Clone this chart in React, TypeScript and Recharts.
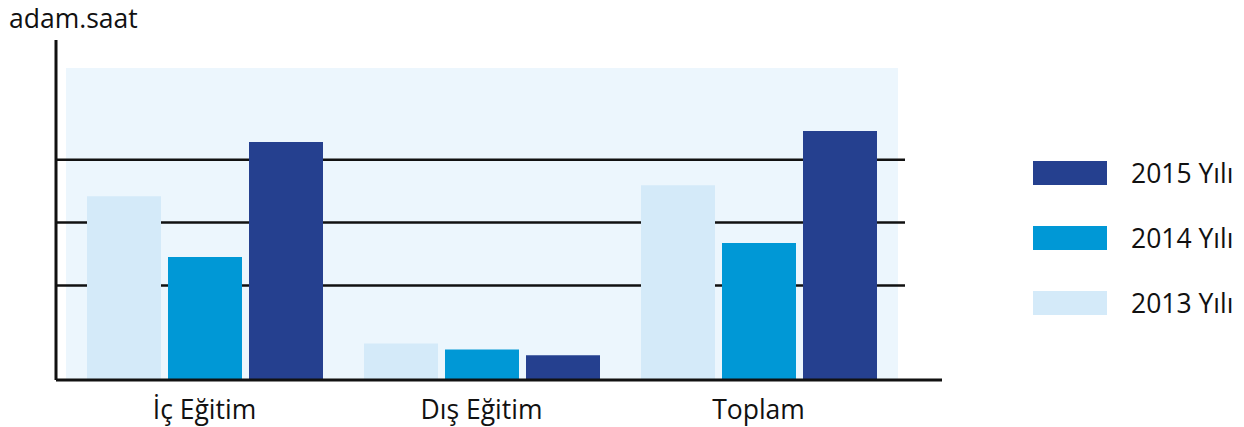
import { BarChart, Bar, XAxis, YAxis, CartesianGrid } from "recharts";

// egitim saatleri (adam.saat), okunan degerler
const categories = ["İç Eğitim", "Dış Eğitim", "Toplam"];
const values2013 = [58400, 11600, 61900];
const values2014 = [39100, 9700, 43500];
const values2015 = [75600, 7900, 79100];
const gridTicks = [30000, 50000, 70000];
const yMax = 108000;

const series = [
  { key: "y2013", name: "2013 Yılı", color: "#d4eaf9" },
  { key: "y2014", name: "2014 Yılı", color: "#0098d6" },
  { key: "y2015", name: "2015 Yılı", color: "#25408f" },
];

const data = categories.map((name, i) => ({
  name,
  y2013: values2013[i],
  y2014: values2014[i],
  y2015: values2015[i],
}));

const FONT = "'Open Sans', 'Noto Sans', sans-serif";
const INK = "#111";
const FS = 26.5;

const App = () => {
  return (
    <div style={{ position: "relative", width: 1228, height: 419, fontFamily: FONT }}>
      <div style={{ position: "absolute", left: 1, top: -3, fontSize: FS, lineHeight: "26px", color: INK }}>
        adam.saat
      </div>

      <BarChart
        width={950}
        height={419}
        data={data}
        margin={{ top: 32, right: 16, bottom: 8, left: 0 }}
        barSize={74}
        barGap={7}
      >
        {/* acik mavi zemin */}
        <CartesianGrid
          horizontal={false}
          vertical={false}
          fill="#ecf6fd"
          fillOpacity={1}
          x={58}
          y={60}
          width={832}
          height={312}
        />
        <CartesianGrid
          vertical={false}
          horizontalValues={gridTicks}
          stroke={INK}
          strokeWidth={2.5}
          x={48}
          width={849}
        />
        <XAxis
          dataKey="name"
          padding={{ left: 10, right: 45 }}
          axisLine={{ stroke: INK, strokeWidth: 3 }}
          tickLine={false}
          tickSize={0}
          tickMargin={20}
          height={39}
          tick={{ fill: INK, fontSize: FS, fontFamily: FONT }}
        />
        <YAxis
          domain={[0, yMax]}
          ticks={gridTicks}
          interval={0}
          tick={{ fill: "transparent", fontSize: 10 }}
          tickLine={false}
          axisLine={{ stroke: INK, strokeWidth: 3 }}
          width={48}
        />
        {series.map((s) => (
          <Bar key={s.key} dataKey={s.key} name={s.name} fill={s.color} isAnimationActive={false} />
        ))}
      </BarChart>

      <div style={{ position: "absolute", left: 1025, top: 153 }}>
        {[...series].reverse().map((s) => (
          <div key={s.key} style={{ display: "flex", alignItems: "center", height: 24, marginBottom: 41 }}>
            <div style={{ width: 74, height: 24, background: s.color }} />
            <span style={{ marginLeft: 24, fontSize: FS, color: INK, whiteSpace: "nowrap" }}>{s.name}</span>
          </div>
        ))}
      </div>
    </div>
  );
};

export default App;
